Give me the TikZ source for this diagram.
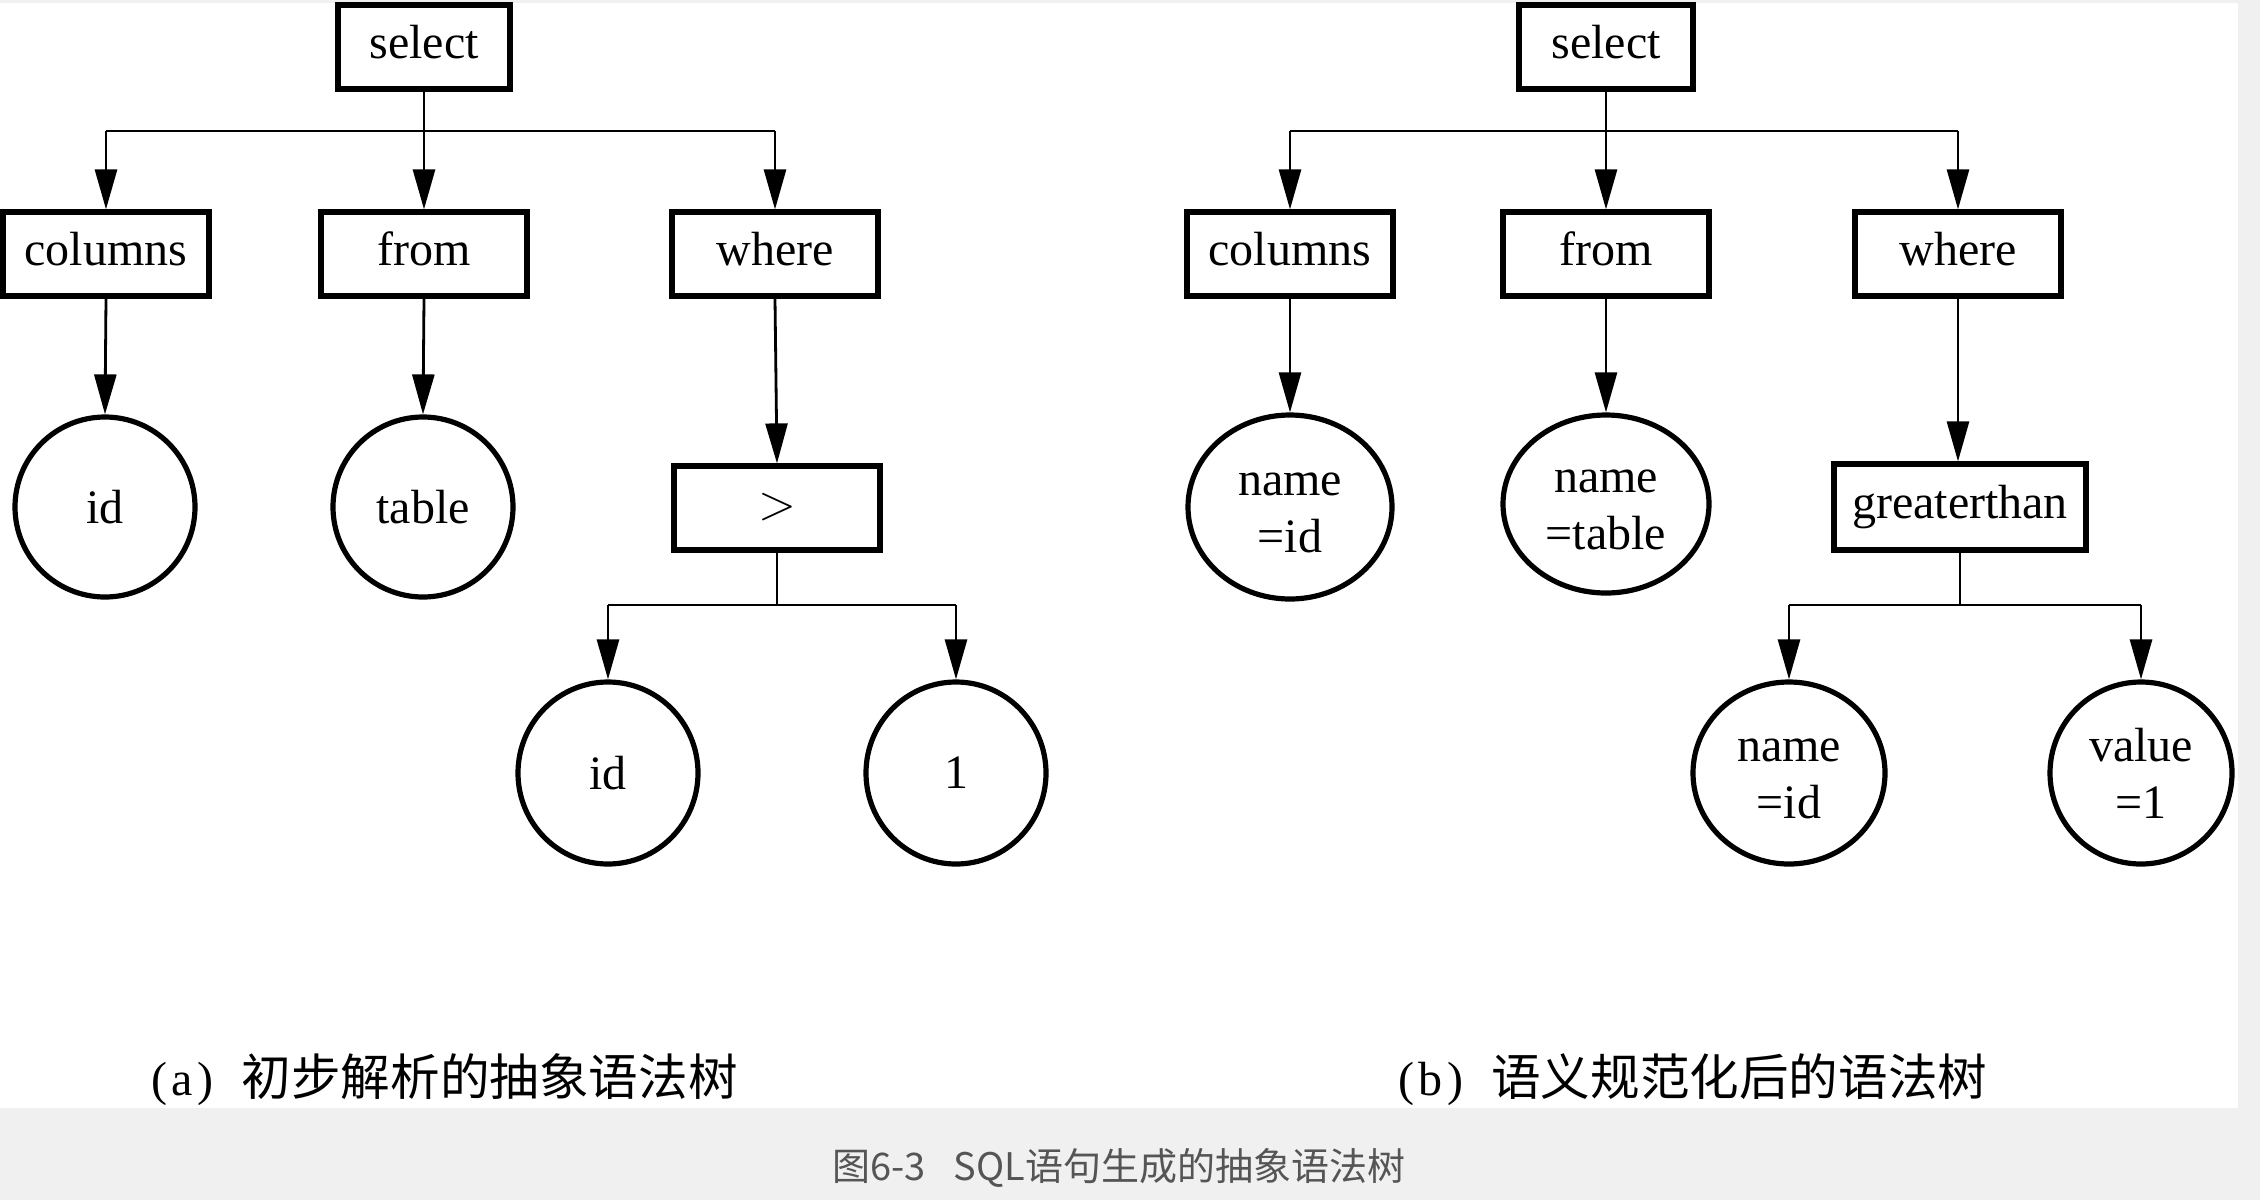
\documentclass[tikz,border=0pt]{standalone}
\usepackage{fontspec}
\setmainfont{Liberation Serif}
\newfontfamily\cjk{Noto Sans CJK SC}
\usetikzlibrary{shapes.geometric,arrows.meta}
\definecolor{bggray}{RGB}{240,240,240}
\definecolor{capgray}{RGB}{85,85,85}
\tikzset{
  box/.style={draw, line width=2.6pt, rectangle, inner sep=0pt,
    text height=17pt, text depth=6pt,
    minimum width=103pt, minimum height=42pt, font=\fontsize{24}{29}\selectfont},
  ell/.style={draw, line width=2.6pt, ellipse, inner sep=0pt, align=center,
    font=\fontsize{24}{29}\selectfont},
  ln/.style={line width=1.4pt},
  arr/.style={line width=1.4pt, -{Triangle[length=20pt,width=11pt]}},
  captext/.style={anchor=west, font=\fontsize{24}{28}\selectfont, inner sep=0pt},
}
\newcommand{\twoline}[2]{\raisebox{-9pt}[0pt][0pt]{\begin{tabular}{@{}c@{}}#1\\[-0.5pt]#2\end{tabular}}}
\begin{document}
\begin{tikzpicture}[x=0.5pt, y=-0.5pt]
\useasboundingbox (0,0) rectangle (2260,1200);
% background
\fill[bggray] (0,0) rectangle (2260,1200);
\fill[white] (0,3) rectangle (2238,1108);

% ---------- tree (a) ----------
\node[box, minimum width=86pt, minimum height=42pt] (selA) at (424,47) {select};
\node[box] (colA) at (106,254) {columns};
\node[box] (fromA) at (424,254) {from};
\node[box] (whereA) at (775,254) {where};
\node[ell, minimum width=90pt, minimum height=90pt] (idA) at (105,507) {id};
\node[ell, minimum width=90pt, minimum height=90pt] (tabA) at (423,507) {table};
\node[box] (gtA) at (777,508) {$>$};
\node[ell, minimum width=90pt, minimum height=91pt] (idtwoA) at (608,773) {id};
\node[ell, minimum width=90pt, minimum height=91pt] (oneA) at (956,773) {1};

\coordinate (brA) at (424,131);
\coordinate (brA2) at (777,605);
\draw[arr] (selA.south) -- (fromA.north);
\draw[ln] (colA.north |- brA) -- (whereA.north |- brA);
\draw[arr] (colA.north |- brA) -- (colA.north);
\draw[arr] (whereA.north |- brA) -- (whereA.north);
\draw[arr] (colA.south) -- (idA.north);
\draw[arr] (fromA.south) -- (tabA.north);
\draw[arr] (whereA.south) -- (gtA.north);
\draw[ln] (gtA.south) -- (brA2);
\draw[ln] (idtwoA.north |- brA2) -- (oneA.north |- brA2);
\draw[arr] (idtwoA.north |- brA2) -- (idtwoA.north);
\draw[arr] (oneA.north |- brA2) -- (oneA.north);

% ---------- tree (b) ----------
\node[box, minimum width=87pt, minimum height=42pt] (selB) at (1606,47) {select};
\node[box] (colB) at (1290,254) {columns};
\node[box] (fromB) at (1606,254) {from};
\node[box] (whereB) at (1958,254) {where};
\node[ell, minimum width=102pt, minimum height=92pt] (nidB) at (1290,507) {\twoline{name}{=id}};
\node[ell, minimum width=103pt, minimum height=89pt] (ntabB) at (1606,504) {\twoline{name}{=table}};
\node[box, minimum width=126pt, minimum height=43pt] (gtB) at (1960,507) {greaterthan};
\node[ell, minimum width=96pt, minimum height=91pt] (nidtwoB) at (1789,773) {\twoline{name}{=id}};
\node[ell, minimum width=91pt, minimum height=91pt] (valB) at (2141,773) {\twoline{value}{=1}};

\coordinate (brB) at (1606,131);
\coordinate (brB2) at (1960,605);
\draw[arr] (selB.south) -- (fromB.north);
\draw[ln] (colB.north |- brB) -- (whereB.north |- brB);
\draw[arr] (colB.north |- brB) -- (colB.north);
\draw[arr] (whereB.north |- brB) -- (whereB.north);
\draw[arr] (colB.south) -- (nidB.north);
\draw[arr] (fromB.south) -- (ntabB.north);
\draw[arr] (whereB.south) -- (whereB.south |- gtB.north);
\draw[ln] (gtB.south) -- (brB2);
\draw[ln] (nidtwoB.north |- brB2) -- (valB.north |- brB2);
\draw[arr] (nidtwoB.north |- brB2) -- (nidtwoB.north);
\draw[arr] (valB.north |- brB2) -- (valB.north);

% ---------- captions ----------
\node[captext] (capA) at (151,1080) {(\hspace{2pt}a\hspace{2.5pt})\hspace{14pt}{\cjk\fontsize{24.8}{28}\selectfont 初步解析的抽象语法树}};
\node[captext] (capB) at (1398,1080) {(\hspace{2pt}b\hspace{2.5pt})\hspace{14pt}{\cjk\fontsize{24.8}{28}\selectfont 语义规范化后的语法树}};
\node[font=\cjk\fontsize{19}{22}\selectfont, text=capgray, inner sep=0pt] (fig) at (1119,1168) {图6-3\hspace{14pt}SQL语句生成的抽象语法树};
\end{tikzpicture}
\end{document}
